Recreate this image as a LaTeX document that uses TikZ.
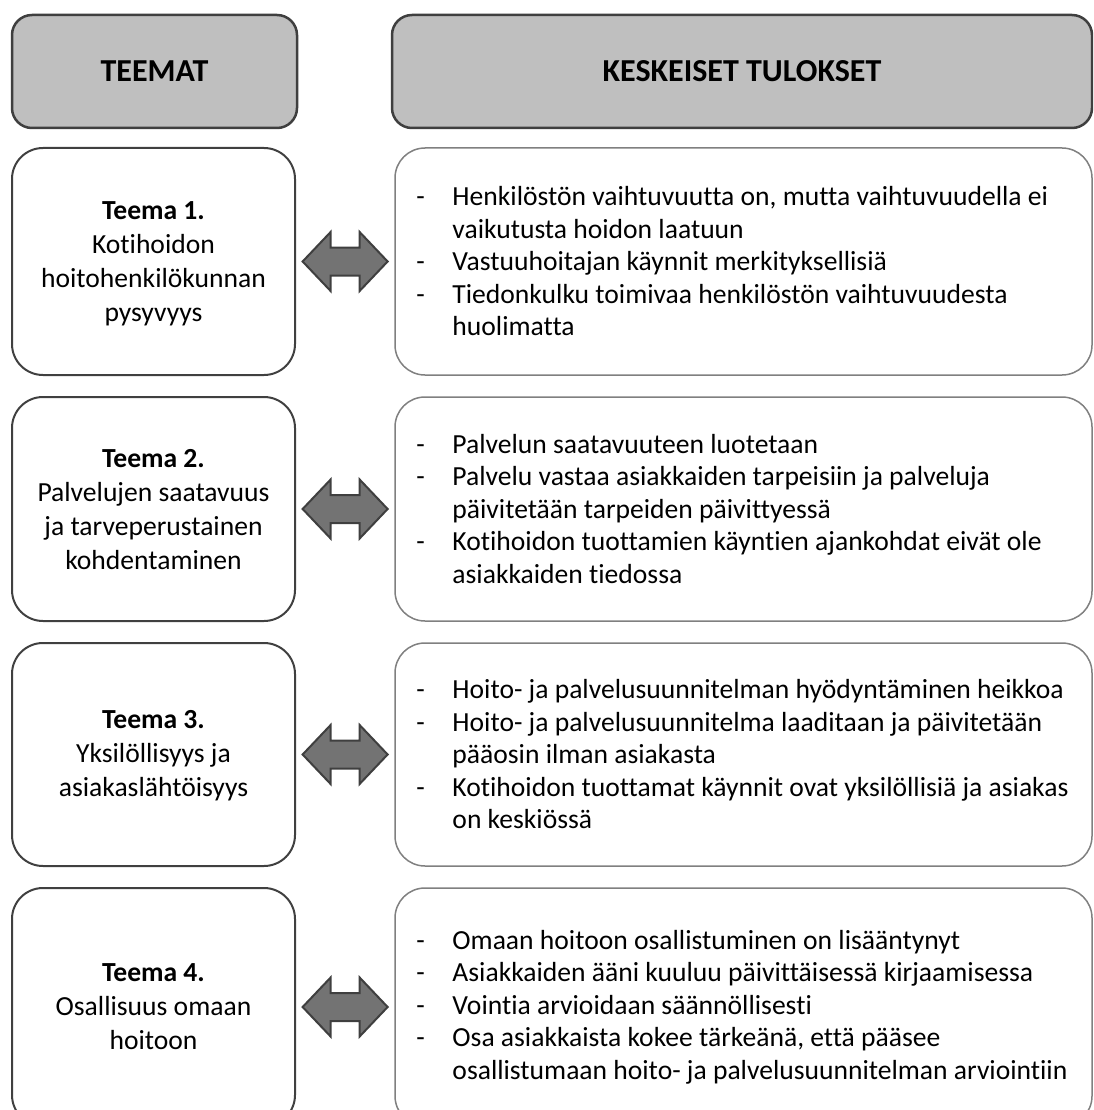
\documentclass[tikz,border=0pt]{standalone}
\usepackage{fontspec}
\setmainfont{Carlito}[Ligatures=NoCommon]
\definecolor{hdrfill}{HTML}{BFBFBF}
\definecolor{hdrline}{HTML}{3F3F3F}
\definecolor{themeline}{HTML}{404040}
\definecolor{resline}{HTML}{808080}
\definecolor{arrfill}{HTML}{737373}
\definecolor{arrline}{HTML}{3F3F3F}

% list helpers: a dash in a fixed column, continuation lines indented
\newcommand{\dashitem}{\makebox[36pt][l]{-}}
\newcommand{\contline}{\hspace*{36pt}}

\tikzset{
  header/.style={draw=hdrline, line width=2.5pt, fill=hdrfill, rounded corners=20pt,
    font=\fontsize{32}{38}\selectfont\bfseries, inner sep=0pt},
  themebox/.style={draw=themeline, line width=2pt, fill=white, rounded corners=31pt, inner sep=0pt},
  themetext/.style={align=center, font=\fontsize{27.6}{34}\selectfont, inner sep=0pt},
  resultbox/.style={draw=resline, line width=1.5pt, fill=white, rounded corners=30pt, inner sep=0pt},
  resulttext/.style={align=left, font=\fontsize{27.6}{32.5}\selectfont, inner sep=0pt, anchor=west},
  arrowbody/.style={draw=arrline, fill=arrfill, line width=2pt, line join=miter},
  pics/linkarrow/.style={code={
    \draw[arrowbody] (-42.5,0) -- (-14.5,-29.5) -- (-14.5,-14) -- (14.5,-14) -- (14.5,-29.5)
      -- (42.5,0) -- (14.5,29.5) -- (14.5,14) -- (-14.5,14) -- (-14.5,29.5) -- cycle;}}
}

\begin{document}
\begin{tikzpicture}[x=1pt,y=-1pt]
\useasboundingbox (0,0) rectangle (1093,1110);
\clip (0,0) rectangle (1093,1110);

% column headers
\node[header, minimum width=285pt, minimum height=113pt] (h1) at (154.5,71.5) {TEEMAT};
\node[header, minimum width=700pt, minimum height=113pt] (h2) at (742,71.5) {KESKEISET TULOKSET};

% theme boxes (left column)
\node[themebox, minimum width=283pt, minimum height=227pt] (t1) at (153.5,261.5) {};
\node[themebox, minimum width=283pt, minimum height=224pt] (t2) at (153.5,509) {};
\node[themebox, minimum width=283pt, minimum height=223pt] (t3) at (153.5,754.5) {};
\node[themebox, minimum width=283pt, minimum height=238pt] (t4) at (153.5,1007) {};

\node[themetext] (t1txt) at ([yshift=-2pt]t1.center)
  {\textbf{Teema 1.}\\Kotihoidon\\hoitohenkilökunnan\\pysyvyys};
\node[themetext] (t2txt) at ([yshift=-1pt]t2.center)
  {\textbf{Teema 2.}\\Palvelujen saatavuus\\ja tarveperustainen\\kohdentaminen};
\node[themetext] (t3txt) at ([yshift=-1pt]t3.center)
  {\textbf{Teema 3.}\\Yksilöllisyys ja\\asiakaslähtöisyys};
\node[themetext] (t4txt) at (t4.center)
  {\textbf{Teema 4.}\\Osallisuus omaan\\hoitoon};

% result boxes (right column)
\node[resultbox, minimum width=697pt, minimum height=227pt] (r1) at (743.5,261.5) {};
\node[resultbox, minimum width=697pt, minimum height=224pt] (r2) at (743.5,509) {};
\node[resultbox, minimum width=697pt, minimum height=223pt] (r3) at (743.5,754.5) {};
\node[resultbox, minimum width=697pt, minimum height=238pt] (r4) at (743.5,1007) {};

\node[resulttext] (r1txt) at ([xshift=22pt]r1.west) {%
  \dashitem Henkilöstön vaihtuvuutta on, mutta vaihtuvuudella ei\\
  \contline vaikutusta hoidon laatuun\\
  \dashitem Vastuuhoitajan käynnit merkityksellisiä\\
  \dashitem Tiedonkulku toimivaa henkilöstön vaihtuvuudesta\\
  \contline huolimatta};
\node[resulttext] (r2txt) at ([xshift=22pt]r2.west) {%
  \dashitem Palvelun saatavuuteen luotetaan\\
  \dashitem Palvelu vastaa asiakkaiden tarpeisiin ja palveluja\\
  \contline päivitetään tarpeiden päivittyessä\\
  \dashitem Kotihoidon tuottamien käyntien ajankohdat eivät ole\\
  \contline asiakkaiden tiedossa};
\node[resulttext] (r3txt) at ([xshift=22pt]r3.west) {%
  \dashitem Hoito- ja palvelusuunnitelman hyödyntäminen heikkoa\\
  \dashitem Hoito- ja palvelusuunnitelma laaditaan ja päivitetään\\
  \contline pääosin ilman asiakasta\\
  \dashitem Kotihoidon tuottamat käynnit ovat yksilöllisiä ja asiakas\\
  \contline on keskiössä};
\node[resulttext] (r4txt) at ([xshift=22pt]r4.west) {%
  \dashitem Omaan hoitoon osallistuminen on lisääntynyt\\
  \dashitem Asiakkaiden ääni kuuluu päivittäisessä kirjaamisessa\\
  \dashitem Vointia arvioidaan säännöllisesti\\
  \dashitem Osa asiakkaista kokee tärkeänä, että pääsee\\
  \contline osallistumaan hoito- ja palvelusuunnitelman arviointiin};

% two-way arrows between each theme and its results
\foreach \i in {1,2,3,4} {
  \path (t\i.east) -- (r\i.west) coordinate[midway] (a\i);
  \pic at (a\i) {linkarrow};
}
\end{tikzpicture}
\end{document}
